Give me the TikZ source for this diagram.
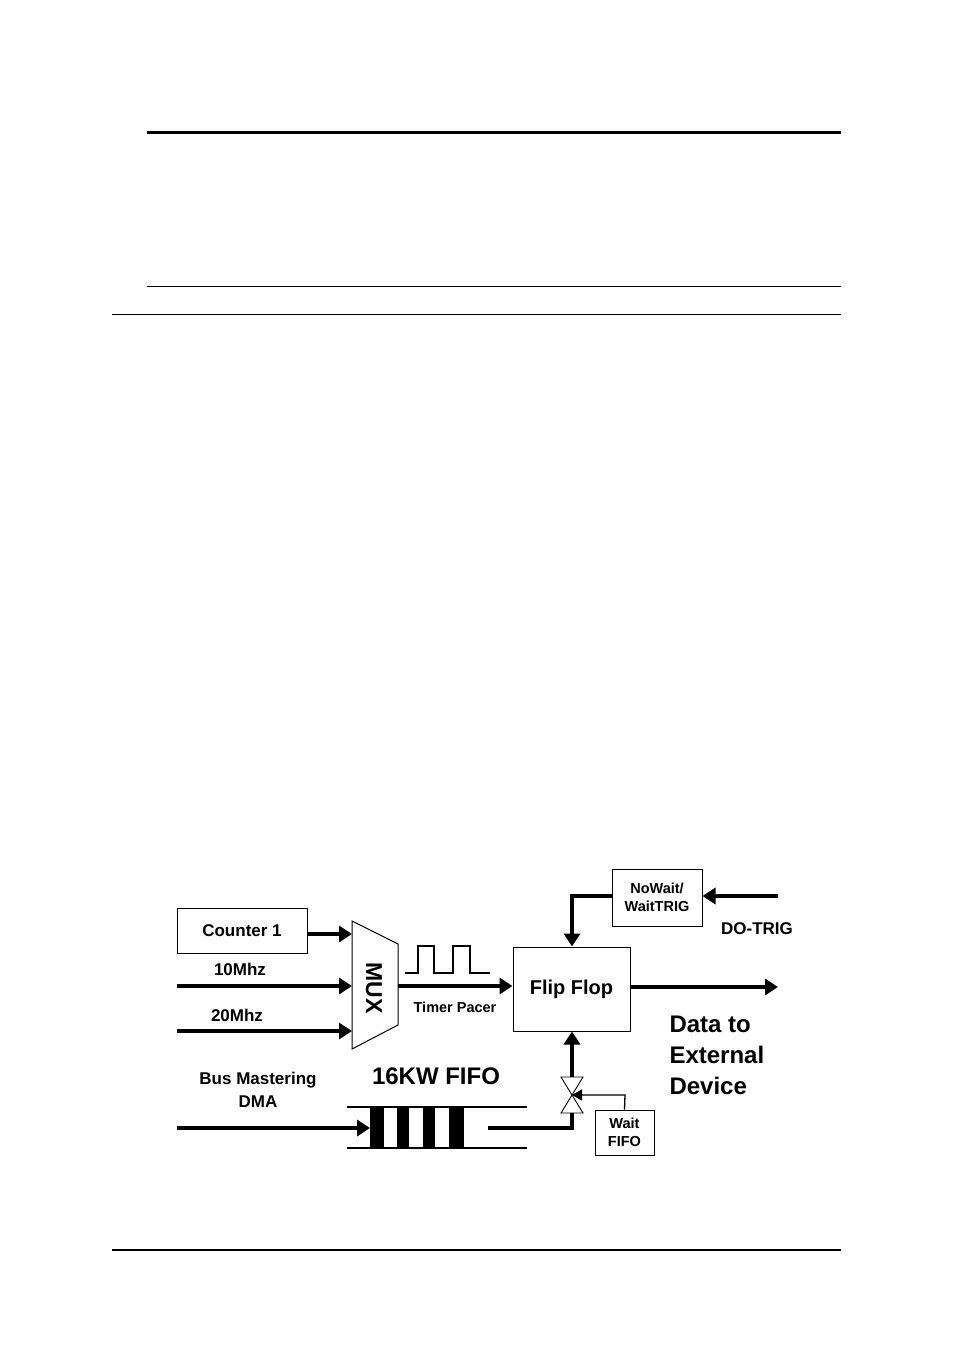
\documentclass[tikz,border=0pt]{standalone}
\usepackage{fontspec}
\setmainfont{Liberation Sans}
\usetikzlibrary{arrows.meta}
\begin{document}
\begin{tikzpicture}[x=1pt,y=-1pt,
  box/.style={draw,line width=1pt,inner sep=0pt},
  thk/.style={line width=4pt,-{Triangle[length=13pt,width=16pt]}},
  lbl/.style={font=\bfseries\fontsize{17}{20}\selectfont},
  sm/.style={font=\bfseries\fontsize{14.5}{18}\selectfont,align=center}]
\useasboundingbox (0,0) rectangle (954,1358);
% page rules
\draw[line width=3pt] (147,132) -- (841,132);
\draw[line width=1pt] (147,286) -- (841,286);
\draw[line width=1pt] (112,314) -- (841,314);
\draw[line width=2pt] (112,1250) -- (841,1250);
% Counter 1
\node[box,minimum width=130pt,minimum height=45pt,lbl] (cnt) at (242,930.5) {Counter 1};
% MUX
\draw[line width=1pt] (352,921) -- (398,944) -- (398,1025) -- (352,1049) -- cycle;
\node[font=\bfseries\fontsize{23}{25}\selectfont,rotate=-90] (mux) at (374,988) {MUX};
\coordinate (m1) at (352,934);
\coordinate (m2) at (352,986);
\coordinate (m3) at (352,1031);
\coordinate (mo) at (398,986);
\draw[thk] (cnt.east|-m1) -- (m1);
\coordinate (s10) at (177,986);
\coordinate (s20) at (177,1031);
\draw[thk] (s10) -- (m2);
\draw[thk] (s20) -- (m3);
\node[lbl] (l10) at (240,969) {10Mhz};
\node[lbl] (l20) at (237,1015) {20Mhz};
% pulse
\draw[line width=1.2pt] (405,973) -- (418,973) -- (418,946) -- (434,946) -- (434,973) -- (453,973) -- (453,946) -- (470,946) -- (470,973) -- (490,973);
\node[sm] (tp) at (455,1007) {Timer Pacer};
% Flip flop
\node[box,minimum width=117pt,minimum height=84pt,font=\bfseries\fontsize{20}{24}\selectfont] (ff) at (571.5,989) {Flip Flop};
\draw[thk] (mo) -- (ff.west|-mo);
\coordinate (out) at (778,987);
\draw[thk] (ff.east|-out) -- (out);
% NoWait
\node[box,minimum width=90pt,minimum height=57pt,sm] (nw) at (657,897.5) {NoWait/\\WaitTRIG};
\coordinate (dt) at (778,896);
\draw[thk] (dt) -- (nw.east|-dt);
\draw[thk] (nw.west|-dt) -| (ff.north-|572,0);
\node[lbl] (dtl) at (757,929) {DO-TRIG};
\node[font=\bfseries\fontsize{24}{31}\selectfont,align=left,anchor=north west] (dat) at (666,1012) {Data to\\External\\Device};
% FIFO
\draw[line width=2.2pt] (347,1107) -- (527,1107);
\draw[line width=2.2pt] (347,1148) -- (527,1148);
\foreach \a/\b in {370/384,397/409,423/435,449/464}
  \fill (\a,1107) rectangle (\b,1148);
\coordinate (fin) at (370,1128);
\coordinate (bm) at (177,1128);
\draw[thk] (bm) -- (fin);
\node[font=\bfseries\fontsize{24}{26}\selectfont] (fl) at (436,1076) {16KW FIFO};
\node[lbl,align=center,font=\bfseries\fontsize{17}{23}\selectfont] (bml) at (258,1090) {Bus Mastering\\DMA};
% valve
\coordinate (vc) at (572,1095);
\draw[line width=0.9pt] (561,1077) -- (583,1077) -- (561,1113) -- (583,1113) -- cycle;
\draw[line width=4pt] (488,1128) -- (572,1128) -- (572,1113);
\draw[thk] (572,1077) -- (ff.south-|572,0);
\node[box,minimum width=59pt,minimum height=45pt,sm] (wf) at (624.5,1132.5) {Wait\\FIFO};
\draw[line width=1.3pt,-{Triangle[length=10pt,width=11pt]}] (wf.north) -- (625,1095) -- (vc);
\end{tikzpicture}
\end{document}
